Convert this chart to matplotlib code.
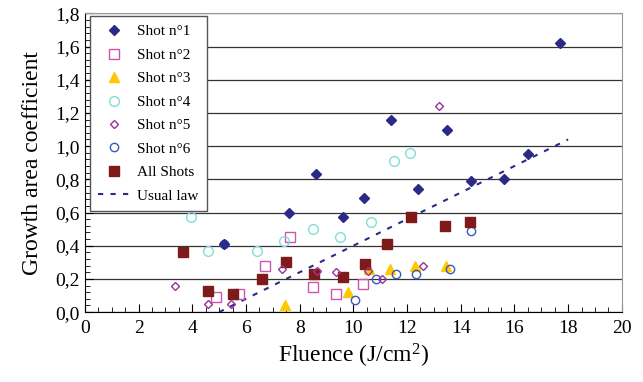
import matplotlib
matplotlib.use("Agg")
from matplotlib import pyplot as plt
from matplotlib.ticker import MultipleLocator
import numpy as np

plt.rcParams['font.family'] = ['Liberation Serif', 'DejaVu Serif']
plt.rcParams['mathtext.default'] = 'regular'

# values
shot1_x = [5.2, 7.6, 8.6, 9.6, 10.4, 11.4, 12.4, 13.5, 14.4, 15.6, 16.5, 17.7]
shot1_y = [0.41, 0.60, 0.83, 0.57, 0.69, 1.16, 0.74, 1.10, 0.79, 0.80, 0.95, 1.62]
shot2_x = [4.9, 5.75, 6.7, 7.65, 8.5, 9.35, 10.35]
shot2_y = [0.09, 0.11, 0.28, 0.45, 0.15, 0.11, 0.17]
shot3_x = [7.45, 9.8, 10.6, 11.35, 12.3, 13.45]
shot3_y = [0.04, 0.12, 0.26, 0.26, 0.28, 0.28]
shot4_x = [3.95, 4.6, 6.4, 7.4, 8.5, 9.5, 10.65, 11.5, 12.1]
shot4_y = [0.57, 0.37, 0.37, 0.43, 0.50, 0.45, 0.54, 0.91, 0.96]
shot5_x = [3.35, 4.6, 5.45, 7.35, 8.65, 9.35, 10.55, 11.05, 12.6, 13.2]
shot5_y = [0.16, 0.05, 0.05, 0.26, 0.25, 0.24, 0.25, 0.20, 0.28, 1.24]
shot6_x = [5.2, 10.05, 10.85, 11.6, 12.35, 13.6, 14.4]
shot6_y = [0.41, 0.07, 0.20, 0.23, 0.23, 0.26, 0.49]
all_x = [3.65, 4.6, 5.5, 6.6, 7.5, 8.55, 9.6, 10.45, 11.25, 12.15, 13.4, 14.35]
all_y = [0.36, 0.13, 0.11, 0.20, 0.30, 0.23, 0.21, 0.29, 0.41, 0.57, 0.52, 0.54]
law_x = [5.0, 18.0]
law_y = [0.0, 1.04]

y_ticks = [0.0, 0.2, 0.4, 0.6, 0.8, 1.0, 1.2, 1.4, 1.6, 1.8]
y_tick_labels = ['0,0', '0,2', '0,4', '0,6', '0,8', '1,0', '1,2', '1,4', '1,6', '1,8']
x_ticks = [0, 2, 4, 6, 8, 10, 12, 14, 16, 18, 20]

fig = plt.figure(figsize=(6.43, 3.82), dpi=100)
ax = fig.add_axes([0.132, 0.183, 0.835, 0.782])

ax.plot(shot1_x, shot1_y, 'D', color='#2b2a87', ms=5.5, label='Shot n°1', zorder=4)
ax.plot(shot2_x, shot2_y, 's', mfc='none', mec='#cc55b0', mew=1.0, ms=7, label='Shot n°2', zorder=3)
ax.plot(shot3_x, shot3_y, '^', color='#ffc800', ms=7, label='Shot n°3', zorder=3)
ax.plot(shot4_x, shot4_y, 'o', mfc='none', mec='#80e0d6', mew=1.0, ms=7, label='Shot n°4', zorder=3)
ax.plot(shot5_x, shot5_y, 'D', mfc='none', mec='#993399', mew=1.0, ms=4, label='Shot n°5', zorder=4)
ax.plot(shot6_x, shot6_y, 'o', mfc='none', mec='#3a58bf', mew=1.0, ms=6, label='Shot n°6', zorder=3)
ax.plot(all_x, all_y, 's', color='#7f1a1a', ms=6.5, label='All Shots', zorder=3)
ax.plot(law_x, law_y, '--', color='#2b2a87', lw=1.5, dashes=(2.5, 3.5), label='Usual law', zorder=2)

ax.set_xlim(0, 20)
ax.set_ylim(0, 1.8)
ax.set_xticks(x_ticks)
ax.set_yticks(y_ticks)
ax.set_yticklabels(y_tick_labels)
ax.xaxis.set_minor_locator(MultipleLocator(0.5))
ax.yaxis.set_minor_locator(MultipleLocator(0.04))
ax.tick_params(which='both', direction='in', labelsize=14, top=False, right=False)
ax.tick_params(which='major', length=6, width=0.8)
ax.tick_params(which='minor', length=3.5, width=0.6)
ax.tick_params(axis='x', pad=6)

ax.yaxis.grid(True, color='#333333', lw=0.9)
ax.set_axisbelow(True)
for side in ['top', 'right']:
    ax.spines[side].set_color('#999999')
ax.spines['left'].set_color('black')
ax.spines['bottom'].set_color('black')

ax.set_xlabel('Fluence (J/cm$^2$)', fontsize=17, labelpad=3)
ax.set_ylabel('Growth area coefficient', fontsize=17, labelpad=9)

leg = ax.legend(loc='upper left', bbox_to_anchor=(0.009, 0.99), borderaxespad=0, fontsize=11,
                frameon=True, fancybox=False, framealpha=1, edgecolor='#555555',
                borderpad=0.55, labelspacing=0.64, handlelength=2.1, handletextpad=0.45)
leg.get_frame().set_linewidth(1.0)

fig.savefig('out.png', dpi=100)
